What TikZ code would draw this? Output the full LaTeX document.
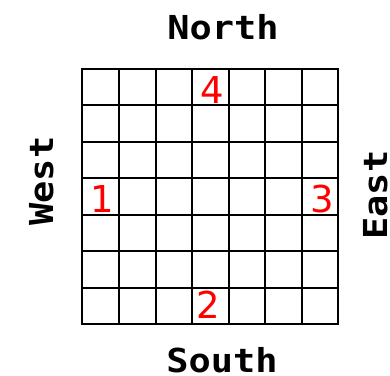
\documentclass[tikz,border=0pt]{standalone}
\usepackage{fontspec}
\newfontfamily\labfont{DejaVu Sans Mono}
\newfontfamily\numfont{DejaVu Sans}
\newcommand{\widen}[1]{\scalebox{1.12}[1]{#1}}
\tikzset{
  dirlabel/.style={font=\labfont\bfseries\fontsize{33}{33}\selectfont, inner sep=0pt, anchor=base},
  numlabel/.style={font=\numfont\fontsize{37}{37}\selectfont, text=red, inner sep=0pt, anchor=base},
  gridline/.style={line width=2pt, black, line cap=rect}
}
\begin{document}
\begin{tikzpicture}[x=1pt,y=-1pt]
\useasboundingbox (0,0) rectangle (390,375);
\foreach \xx in {82,119,156,192,229,265,302,338} {
  \draw[gridline] (\xx,69) -- (\xx,324);
}
\foreach \yy in {69,105,142,178,215,251,288,324} {
  \draw[gridline] (82,\yy) -- (338,\yy);
}
\node[dirlabel] (north) at (223,39) {\widen{North}};
\node[dirlabel] (south) at (222,372) {\widen{South}};
\node[dirlabel, rotate=90] (west) at (53,181) {\widen{West}};
\node[dirlabel, rotate=90] (east) at (387,195) {\widen{East}};
\node[numlabel] (n4) at (212,103) {4};
\node[numlabel] (n1) at (102,212) {1};
\node[numlabel] (n3) at (322,212) {3};
\node[numlabel] (n2) at (208,318) {2};
\end{tikzpicture}
\end{document}
